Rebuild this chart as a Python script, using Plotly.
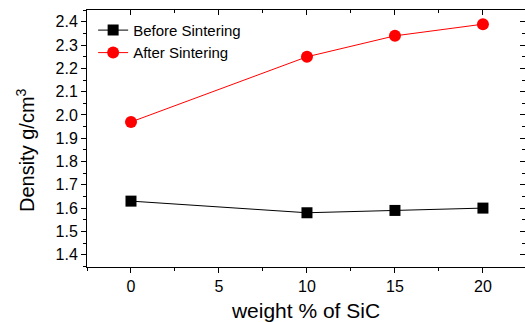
import plotly.graph_objects as go

sic_wt = [0, 10, 15, 20]
before_sintering = [1.63, 1.58, 1.59, 1.60]
after_sintering = [1.97, 2.25, 2.34, 2.39]
y_ticks = [1.4, 1.5, 1.6, 1.7, 1.8, 1.9, 2.0, 2.1, 2.2, 2.3, 2.4]
x_ticks = [0, 5, 10, 15, 20]

fig = go.Figure()
fig.add_trace(go.Scatter(x=sic_wt, y=before_sintering, mode="lines+markers",
                         name="Before Sintering",
                         line=dict(color="black", width=1),
                         marker=dict(symbol="square", size=11, color="black")))
fig.add_trace(go.Scatter(x=sic_wt, y=after_sintering, mode="lines+markers",
                         name="After Sintering",
                         line=dict(color="#ff0000", width=1),
                         marker=dict(symbol="circle", size=12, color="#ff0000")))
fig.add_trace(go.Scatter(x=[None], y=[None], xaxis="x2", yaxis="y2", showlegend=False))

xr = [-2.5, 22.39]
yr = [1.347, 2.451]
font = "Liberation Sans, Arial, sans-serif"

fig.update_layout(
    width=525, height=322,
    margin=dict(l=87, r=0, t=10, b=55, autoexpand=False),
    plot_bgcolor="white", paper_bgcolor="white",
    font=dict(family=font, color="black"),
    showlegend=True,
    legend=dict(x=0.014, y=0.985, xanchor="left", yanchor="top",
                bgcolor="rgba(0,0,0,0)", font=dict(size=15, family=font),
                tracegroupgap=0),
    xaxis=dict(range=xr, tickvals=x_ticks, ticks="outside", ticklen=5, tickwidth=1,
               tickcolor="black", showline=True, linecolor="black", linewidth=1,
               showgrid=False, zeroline=False, tickfont=dict(size=16), automargin=False,
               minor=dict(dtick=2.5, tick0=0, ticks="outside", ticklen=3, tickcolor="black"),
               title=dict(text="weight % of SiC", font=dict(size=21), standoff=9)),
    yaxis=dict(range=yr, tickvals=y_ticks, tickformat=".1f", ticks="outside", ticklen=5,
               tickwidth=1, tickcolor="black", showline=True, linecolor="black",
               linewidth=1, showgrid=False, zeroline=False, tickfont=dict(size=16),
               automargin=False,
               minor=dict(dtick=0.05, tick0=1.4, ticks="outside", ticklen=3, tickcolor="black")),
    xaxis2=dict(range=xr, overlaying="x", side="top", tickvals=x_ticks, ticks="inside",
                ticklen=5, tickcolor="black", showline=True, linecolor="black",
                showticklabels=False, showgrid=False, zeroline=False, automargin=False,
                minor=dict(dtick=2.5, tick0=0, ticks="inside", ticklen=3, tickcolor="black")),
    yaxis2=dict(range=yr, overlaying="y", side="right", tickvals=y_ticks, ticks="inside",
                ticklen=5, tickcolor="black", showline=True, linecolor="black",
                showticklabels=False, showgrid=False, zeroline=False, automargin=False,
                minor=dict(dtick=0.05, tick0=1.4, ticks="inside", ticklen=3, tickcolor="black")),
    annotations=[dict(text="Density g/cm<sup>3</sup>", textangle=-90, showarrow=False,
                      xref="paper", yref="paper", x=-0.1416, y=0.455,
                      xanchor="center", yanchor="middle", font=dict(size=20))],
)
fig.write_html("out.html", config={"displayModeBar": False},
               post_script="document.body.style.margin='0';document.body.style.overflow='hidden';")
